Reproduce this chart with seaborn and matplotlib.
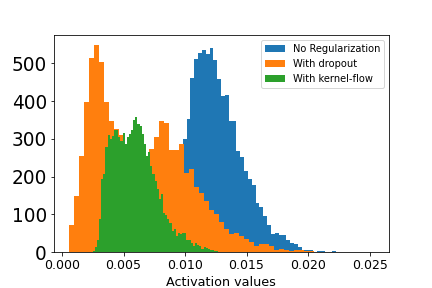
import numpy as np
import pandas as pd
import matplotlib
matplotlib.use("Agg")
import matplotlib.pyplot as plt
import seaborn as sns

# histogram counts, one list per model
labels = ["No Regularization", "With dropout", "With kernel-flow"]
colors = ["#1f77b4", "#ff7f0e", "#2ca02c"]

blue_start, blue_width = 0.009813, 0.0003116
blue_counts = [300, 352, 461, 511, 527, 535, 525, 541, 509, 458,
               413, 416, 347, 347, 268, 252, 215, 193, 177, 130,
               119, 95, 72, 48, 50, 45, 45, 32, 24, 21,
               13, 6, 5, 5, 0, 3, 3, 0, 0, 3,
               0, 0, 0, 0, 0, 0, 0, 0, 0, 1]

orange_start, orange_width = 0.000545, 0.0004065
orange_counts = [72, 148, 254, 397, 514, 548, 503, 397, 347, 326,
                 309, 280, 270, 262, 258, 254, 273, 305, 347, 342,
                 270, 270, 286, 209, 220, 172, 156, 135, 111, 101,
                 80, 61, 48, 50, 42, 34, 26, 16, 21, 21,
                 16, 5, 8, 5, 3, 5, 5, 3, 2, 1]

green_start, green_width = 0.002496, 0.0001732
green_counts = [3, 12, 32, 87, 193, 207, 278, 310, 299, 307,
                323, 323, 305, 294, 315, 286, 305, 313, 323, 350,
                358, 339, 334, 313, 286, 254, 265, 228, 207, 188,
                167, 140, 154, 104, 98, 87, 77, 56, 61, 42,
                50, 48, 50, 50, 32, 32, 24, 16, 24, 19,
                16, 8, 13, 11, 8, 5, 5, 3, 3]


def draw_hist(ax, start, width, counts, color, label):
    edges = start + width * np.arange(len(counts) + 1)
    df = pd.DataFrame({"v": (edges[:-1] + edges[1:]) / 2,
                       "w": np.array(counts, dtype=float)})
    sns.histplot(data=df, x="v", weights="w", bins=edges.tolist(),
                 color=color, alpha=1, linewidth=0, label=label, ax=ax)


fig, ax = plt.subplots(figsize=(6, 4), dpi=72)
fig.subplots_adjust(left=0.125, right=0.9, top=0.877, bottom=0.125)

draw_hist(ax, blue_start, blue_width, blue_counts, colors[0], labels[0])
draw_hist(ax, orange_start, orange_width, orange_counts, colors[1], labels[1])
draw_hist(ax, green_start, green_width, green_counts, colors[2], labels[2])

ax.set_xlim(-0.00065, 0.02656)
ax.set_ylim(0, 574)
ax.set_xticks([0.0, 0.005, 0.01, 0.015, 0.02, 0.025])
ax.set_xticklabels(["0.000", "0.005", "0.010", "0.015", "0.020", "0.025"])
ax.set_yticks([0, 100, 200, 300, 400, 500])
ax.tick_params(axis="y", labelsize=18.5)
ax.tick_params(axis="x", labelsize=12.5)
ax.set_xlabel("Activation values", fontsize=12.8)
ax.set_ylabel("")
ax.legend(loc="upper right", fontsize=9.9)

fig.savefig("out.png", dpi=72)
